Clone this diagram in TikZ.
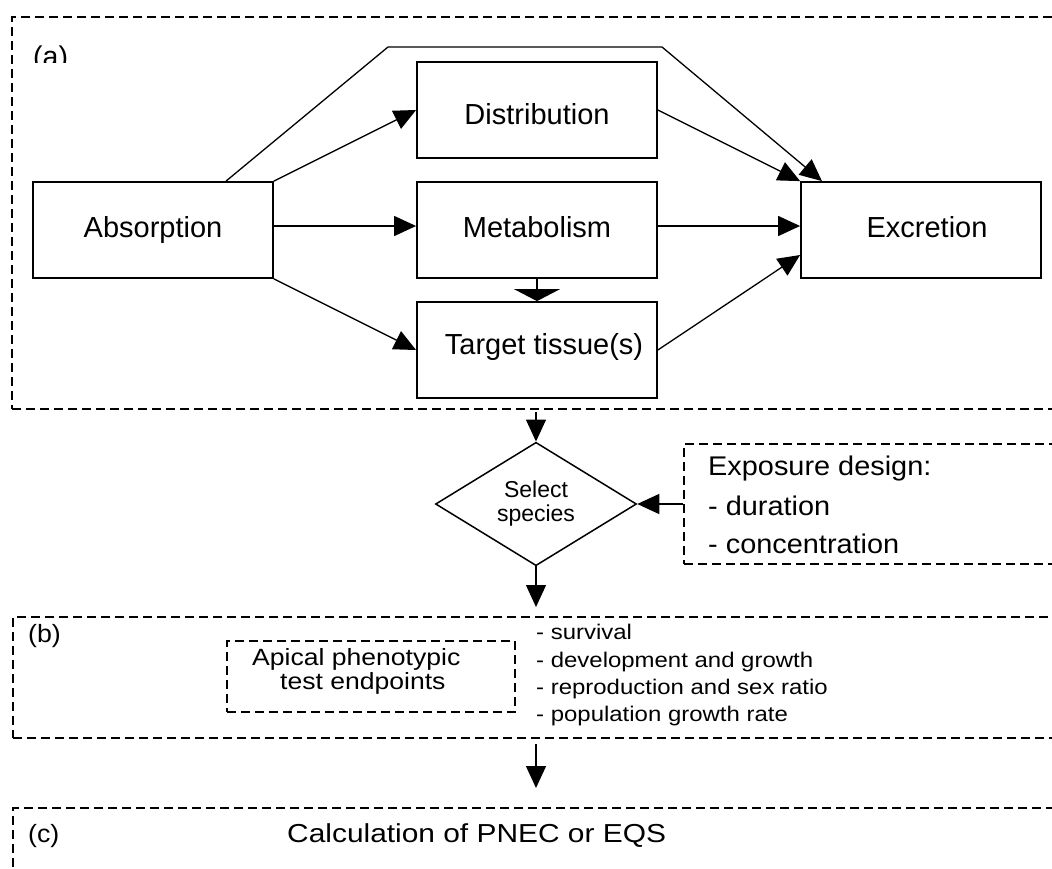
\documentclass[tikz,border=0pt]{standalone}
\usepackage{fontspec}
\setmainfont{Liberation Sans}
\newfontfamily\stA[FakeStretch=1.07]{Liberation Sans}
\newfontfamily\stB[FakeStretch=1.13]{Liberation Sans}
\newfontfamily\stC[FakeStretch=1.15]{Liberation Sans}
\usetikzlibrary{arrows.meta,shapes.geometric}

\begin{document}
\begin{tikzpicture}[x=1pt,y=-1pt,
  box/.style={draw,line width=1.8pt,minimum width=240pt,minimum height=96pt,
    inner sep=0pt,font=\fontsize{29}{30}\selectfont,text height=20.5pt,text depth=6pt},
  frame/.style={draw,line width=2pt,dash pattern=on 9pt off 5pt,inner sep=0pt,anchor=north west},
  arr/.style={line width=1.3pt,-{Triangle[length=22pt,width=20pt]}},
  widearr/.style={line width=1.3pt,-{Triangle[length=12pt,width=46pt]}},
  lbl/.style={anchor=base west,inner sep=0pt,font=\stA\fontsize{25}{27}\selectfont},
  expotext/.style={anchor=base west,inner sep=0pt,font=\stA\fontsize{27}{29}\selectfont},
  listtext/.style={anchor=base west,inner sep=0pt,font=\stB\fontsize{21.2}{23}\selectfont},
  apitext/.style={anchor=base west,inner sep=0pt,font=\stB\fontsize{23.5}{25}\selectfont}
]
\useasboundingbox (0,0) rectangle (1052,868);
\fill[white] (0,0) rectangle (1052,868);
\clip (0,0) rectangle (1052,868);

% (a) toxicokinetics panel
\node[frame,minimum width=1080pt,minimum height=392pt] (fa) at (11,16) {};
\begin{scope}
  \clip (0,0) rectangle (200,62);
  \node[anchor=base west,inner sep=0pt,font=\fontsize{28.5}{30}\selectfont] (la) at (33,66) {(a)};
\end{scope}

\node[box] (abs)  at (153,230) {Absorption};
\node[box] (dist) at (537,110) {\raisebox{-7pt}{Distribution}};
\node[box] (met)  at (537,230) {Metabolism};
\node[box] (tgt)  at (537,350) {\hspace*{14pt}\raisebox{3pt}{Target tissue(s)}};
\node[box] (exc)  at (921,230) {\hspace*{12pt}Excretion};

\coordinate (bendL) at (388,47);
\coordinate (bendR) at (662,47);

\draw[arr] ([xshift=73pt]abs.north) -- (bendL) -- (bendR) -- ([xshift=-99pt]exc.north);
\draw[arr] (abs.north east) -- (dist.west);
\draw[arr] ([yshift=4pt]abs.east) -- ([yshift=4pt]met.west);
\draw[arr] (abs.south east) -- (tgt.west);
\draw[arr] (dist.east) -- (exc.north west);
\draw[arr] ([yshift=4pt]met.east) -- ([yshift=4pt]exc.west);
\draw[arr] (tgt.east) -- ([yshift=-25pt]exc.west);
\draw[widearr] (met.south) -- (tgt.north);

% species selection and exposure design
\node[diamond,draw,line width=1.5pt,minimum width=201pt,minimum height=112pt,inner sep=0pt,
  align=center,font=\fontsize{23}{24}\selectfont] (sel) at (536,504) {Select\\species};
\node[frame,minimum width=400pt,minimum height=120pt] (expo) at (683,443) {};
\node[expotext] (e1) at (708,475) {Exposure design:};
\node[expotext] (e2) at (708,515) {- duration};
\node[expotext] (e3) at (708,553) {- concentration};

\draw[arr] ([yshift=-2pt]fa.south -| sel.north) -- (sel.north);
\draw[arr] (expo.west) -- (sel.east);

% (b) test endpoints panel
\node[frame,minimum width=1080pt,minimum height=121pt] (fb) at (12,616) {};
\node[lbl] (lb) at (28,642) {(b)};
\node[frame,minimum width=288pt,minimum height=71pt] (api) at (226,640) {};
\node[apitext] (a1) at (252,665) {Apical phenotypic};
\node[apitext] (a2) at (280,689) {test endpoints};
\node[listtext] (l1) at (536,639) {- survival};
\node[listtext] (l2) at (536,667) {- development and growth};
\node[listtext] (l3) at (536,694) {- reproduction and sex ratio};
\node[listtext] (l4) at (536,721) {- population growth rate};

\draw[arr] (sel.south) -- ([yshift=9pt]fb.north -| sel.south);

% (c) derivation panel
\node[frame,minimum width=1080pt,minimum height=100pt] (fc) at (12,807) {};
\node[lbl] (lc) at (28,842) {(c)};
\node[anchor=base west,inner sep=0pt,font=\stC\fontsize{26}{28}\selectfont] (calc) at (287,842) {Calculation of PNEC or EQS};

\draw[arr] ([yshift=-5pt]fb.south -| sel.south) -- ([yshift=19pt]fc.north -| sel.south);
\end{tikzpicture}
\end{document}
